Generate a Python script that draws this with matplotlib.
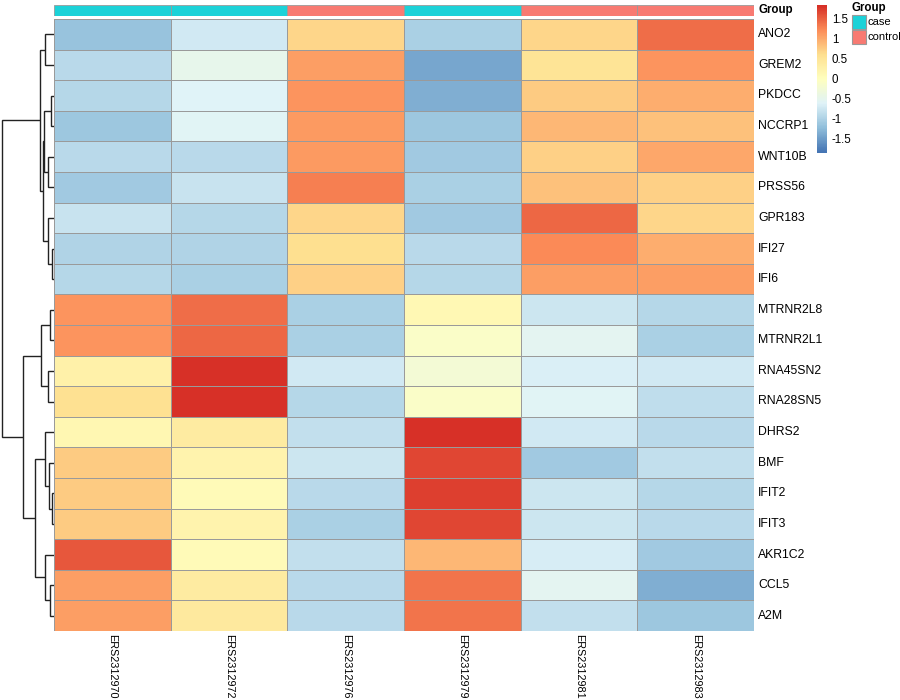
import numpy as np
import matplotlib
matplotlib.use("Agg")
import matplotlib.pyplot as plt
from matplotlib.colors import LinearSegmentedColormap, ListedColormap
from matplotlib.patches import Rectangle

plt.rcParams['font.family'] = ['Liberation Sans', 'DejaVu Sans']

# ---------------- data ----------------
genes = ["ANO2", "GREM2", "PKDCC", "NCCRP1", "WNT10B", "PRSS56", "GPR183", "IFI27",
         "IFI6", "MTRNR2L8", "MTRNR2L1", "RNA45SN2", "RNA28SN5", "DHRS2", "BMF",
         "IFIT2", "IFIT3", "AKR1C2", "CCL5", "A2M"]
samples = ["ERS2312970", "ERS2312972", "ERS2312976", "ERS2312979", "ERS2312981", "ERS2312983"]
groups = ["case", "case", "control", "case", "control", "control"]

ANO2 = [-1.15, -0.68, 0.72, -0.98, 0.72, 1.44]
GREM2 = [-0.88, -0.45, 1.10, -1.40, 0.55, 1.20]
PKDCC = [-0.90, -0.58, 1.20, -1.33, 0.80, 1.00]
NCCRP1 = [-1.12, -0.55, 1.15, -1.12, 0.95, 0.85]
WNT10B = [-0.88, -0.88, 1.15, -1.08, 0.75, 1.05]
PRSS56 = [-1.08, -0.78, 1.35, -0.98, 0.85, 0.75]
GPR183 = [-0.78, -0.93, 0.70, -1.08, 1.50, 0.70]
IFI27 = [-0.95, -0.95, 0.65, -0.88, 1.25, 1.00]
IFI6 = [-0.92, -1.00, 0.75, -0.92, 1.10, 1.10]
MTRNR2L8 = [1.20, 1.45, -1.00, 0.15, -0.73, -0.92]
MTRNR2L1 = [1.20, 1.50, -1.00, -0.05, -0.50, -0.98]
RNA45SN2 = [0.30, 1.95, -0.70, -0.20, -0.62, -0.70]
RNA28SN5 = [0.60, 1.85, -0.92, -0.05, -0.55, -0.85]
DHRS2 = [0.20, 0.40, -0.82, 1.85, -0.68, -0.88]
BMF = [0.80, 0.25, -0.72, 1.70, -1.08, -0.82]
IFIT2 = [0.80, 0.10, -0.88, 1.75, -0.72, -0.92]
IFIT3 = [0.80, 0.25, -1.00, 1.70, -0.75, -0.88]
AKR1C2 = [1.60, 0.10, -0.82, 0.95, -0.65, -1.05]
CCL5 = [1.10, 0.40, -0.88, 1.40, -0.50, -1.33]
A2M = [1.10, 0.45, -0.88, 1.40, -0.80, -1.10]

# row dendrogram merges: (left, right, height); leaves 0..19, clusters 20+
merges = [
    (2, 3, 3.3), (7, 8, 2.5), (4, 5, 5.7), (6, 21, 6.3), (0, 1, 9.3),
    (20, 22, 10.0), (25, 23, 11.0), (24, 26, 14.3),
    (9, 10, 4.3), (11, 12, 5.7), (28, 29, 12.7),
    (15, 16, 2.3), (14, 31, 5.0), (13, 32, 9.0),
    (18, 19, 4.3), (17, 34, 9.0), (33, 35, 19.3), (30, 36, 30.7),
    (27, 37, 52.3),
]

cbar_ticks = [-1.5, -1, -0.5, 0, 0.5, 1, 1.5]
cbar_ticklabels = ["-1.5", "-1", "-0.5", "0", "0.5", "1", "1.5"]
vmin, vmax = -1.825, 1.875

group_colors = {"case": "#1CD2D8", "control": "#F87A72"}

# ---------------- figure ----------------
W, H = 900, 700
fig = plt.figure(figsize=(W / 100, H / 100), dpi=100)

def ax_px(x0, y0, x1, y1):
    return fig.add_axes([x0 / W, 1 - y1 / H, (x1 - x0) / W, (y1 - y0) / H])

mat = np.array([ANO2, GREM2, PKDCC, NCCRP1, WNT10B, PRSS56, GPR183, IFI27, IFI6,
                MTRNR2L8, MTRNR2L1, RNA45SN2, RNA28SN5, DHRS2, BMF, IFIT2, IFIT3,
                AKR1C2, CCL5, A2M])
nr, nc = mat.shape

base = ["#4575B4", "#91BFDB", "#E0F3F8", "#FFFFBF", "#FEE090", "#FC8D59", "#D73027"]
cmap = ListedColormap(LinearSegmentedColormap.from_list("rdylbu", base)(np.linspace(0, 1, 100)))

HX0, HX1, HY0, HY1 = 54, 754, 19, 631
ax = ax_px(HX0, HY0, HX1, HY1)
ax.pcolormesh(np.arange(nc + 1), np.arange(nr + 1), mat, cmap=cmap, vmin=vmin, vmax=vmax,
              edgecolors="#9a9a9a", linewidth=0.6)
ax.set_xlim(0, nc)
ax.set_ylim(nr, 0)
ax.set_xticks([])
ax.set_yticks([])
for s in ax.spines.values():
    s.set_visible(False)
for i, g in enumerate(genes):
    ax.text(nc + 0.035, i + 0.5, g, ha="left", va="center", fontsize=8.8)
for j, s_ in enumerate(samples):
    ax.text(j + 0.5, nr + 0.1, s_, ha="center", va="top", rotation=-90, fontsize=7.8)

# annotation bar
axa = ax_px(HX0, 5, HX1, 16)
for j, g in enumerate(groups):
    axa.add_patch(Rectangle((j, 0), 1, 1, facecolor=group_colors[g], edgecolor="#9a9a9a", linewidth=0.6))
axa.set_xlim(0, nc)
axa.set_ylim(0, 1)
axa.axis("off")
axa.text(nc + 0.035, 0.5, "Group", ha="left", va="center", fontsize=8.3, fontweight="bold")

# dendrogram
axd = ax_px(0, HY0, HX0, HY1)
pos = {i: (0.0, i + 0.5) for i in range(nr)}
for k, (a, b, h) in enumerate(merges):
    ha_, ya = pos[a]
    hb, yb = pos[b]
    axd.plot([ha_, h, h, hb], [ya, ya, yb, yb], color="#222222", linewidth=1.0,
             solid_joinstyle="miter", solid_capstyle="butt")
    pos[nr + k] = (h, (ya + yb) / 2)
axd.set_xlim(54.0, 0)
axd.set_ylim(nr, 0)
axd.axis("off")

# color legend
axc = ax_px(817, 5, 827, 153)
grad = np.linspace(vmin, vmax, 100).reshape(-1, 1)
axc.imshow(grad, cmap=cmap, vmin=vmin, vmax=vmax, aspect="auto", origin="lower",
           extent=[0, 1, vmin, vmax])
axc.set_xlim(0, 1)
axc.set_ylim(vmin, vmax)
axc.axis("off")
for t, lab in zip(cbar_ticks, cbar_ticklabels):
    axc.text(1.5, t, lab, ha="left", va="center", fontsize=8.3)

# group legend
axl = ax_px(845, 0, 900, 60)
axl.set_xlim(845, 900)
axl.set_ylim(60, 0)
axl.axis("off")
axl.text(851, 8, "Group", ha="left", va="center", fontsize=8.3, fontweight="bold")
for k, (name, col) in enumerate(group_colors.items()):
    y0 = 15 + k * 14.5
    axl.add_patch(Rectangle((851.5, y0), 14, 14, facecolor=col, edgecolor="#9a9a9a", linewidth=0.8))
    axl.text(868, y0 + 7, name, ha="left", va="center", fontsize=8.0)

fig.savefig("out.png", dpi=100)
